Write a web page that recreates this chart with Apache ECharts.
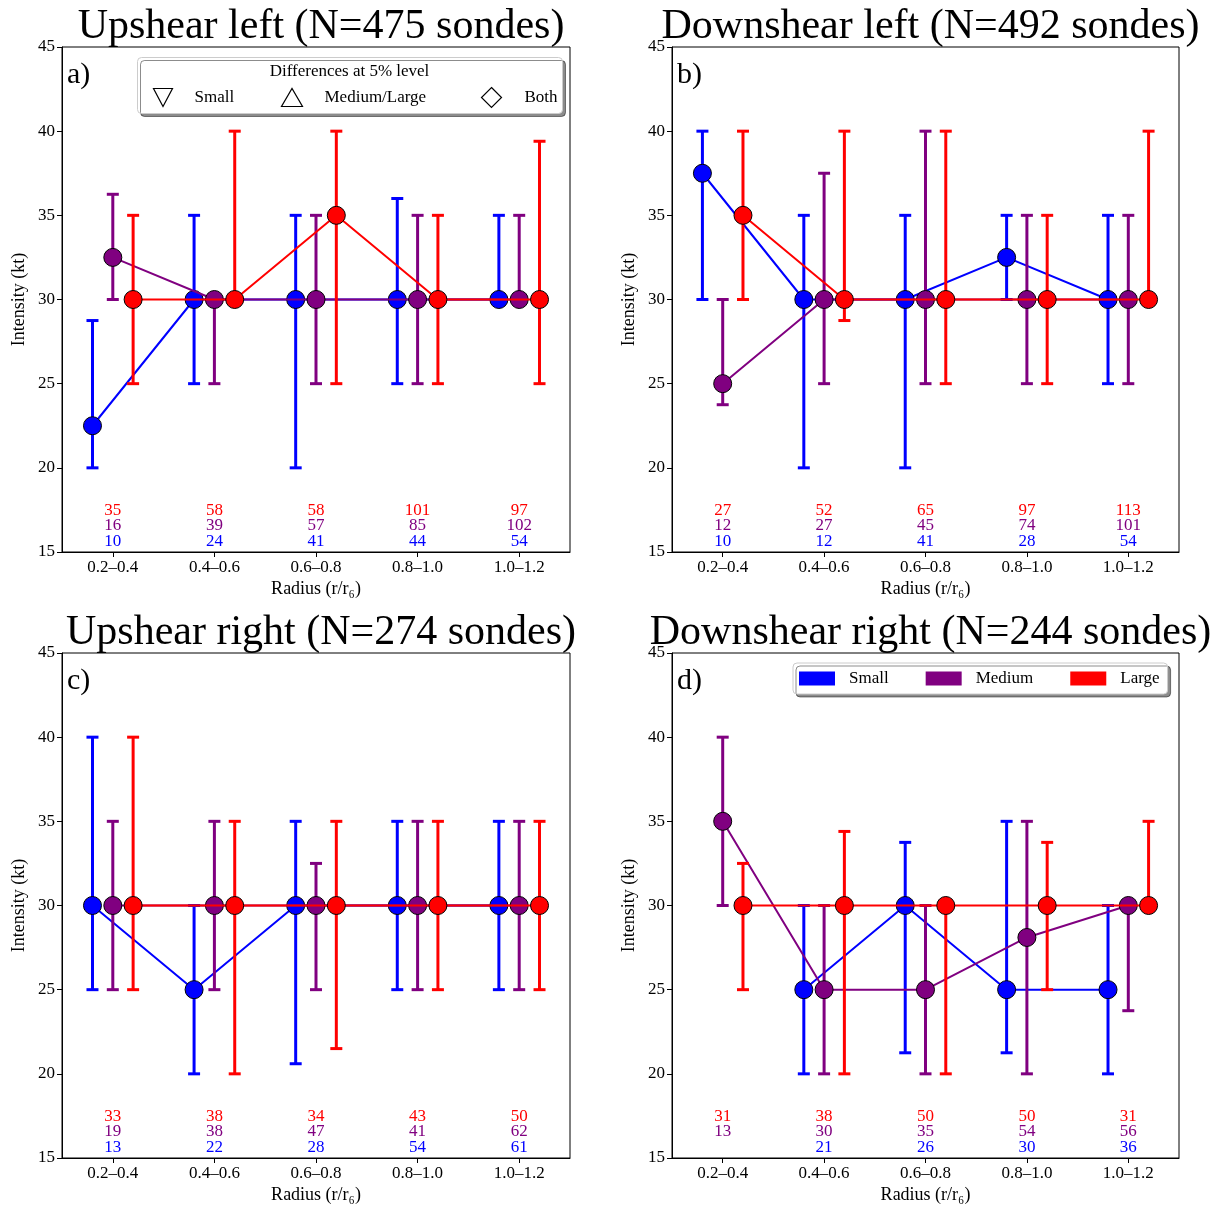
<!DOCTYPE html>
<html>
<head>
<meta charset="utf-8">
<script src="https://cdn.jsdelivr.net/npm/echarts@6/dist/echarts.min.js"></script>
<style>
html, body { margin: 0; padding: 0; background: #fff; }
#chart { width: 1221px; height: 1210px; }
</style>
</head>
<body>
<div id="chart"></div>
<script>
var categories = ['0.2–0.4', '0.4–0.6', '0.6–0.8', '0.8–1.0', '1.0–1.2'];
var titles = ['Upshear left (N=475 sondes)', 'Downshear left (N=492 sondes)',
              'Upshear right (N=274 sondes)', 'Downshear right (N=244 sondes)'];
var letters = ['a)', 'b)', 'c)', 'd)'];

// a) upshear left
var ulSmall = [22.5, 30, 30, 30, 30];
var ulSmallErr = [[20, 28.75], [25, 35], [20, 35], [25, 36], [30, 35]];
var ulSmallN = [10, 24, 41, 44, 54];
var ulMedium = [32.5, 30, 30, 30, 30];
var ulMediumErr = [[30, 36.25], [25, 30], [25, 35], [25, 35], [30, 35]];
var ulMediumN = [16, 39, 57, 85, 102];
var ulLarge = [30, 30, 35, 30, 30];
var ulLargeErr = [[25, 35], [30, 40], [25, 40], [25, 35], [25, 39.4]];
var ulLargeN = [35, 58, 58, 101, 97];

// b) downshear left
var dlSmall = [37.5, 30, 30, 32.5, 30];
var dlSmallErr = [[30, 40], [20, 35], [20, 35], [30, 35], [25, 35]];
var dlSmallN = [10, 12, 41, 28, 54];
var dlMedium = [25, 30, 30, 30, 30];
var dlMediumErr = [[23.75, 30], [25, 37.5], [25, 40], [25, 35], [25, 35]];
var dlMediumN = [12, 27, 45, 74, 101];
var dlLarge = [35, 30, 30, 30, 30];
var dlLargeErr = [[30, 40], [28.75, 40], [25, 40], [25, 35], [30, 40]];
var dlLargeN = [27, 52, 65, 97, 113];

// c) upshear right
var urSmall = [30, 25, 30, 30, 30];
var urSmallErr = [[25, 40], [20, 30], [20.6, 35], [25, 35], [25, 35]];
var urSmallN = [13, 22, 28, 54, 61];
var urMedium = [30, 30, 30, 30, 30];
var urMediumErr = [[25, 35], [25, 35], [25, 32.5], [25, 35], [25, 35]];
var urMediumN = [19, 38, 47, 41, 62];
var urLarge = [30, 30, 30, 30, 30];
var urLargeErr = [[25, 40], [20, 35], [21.5, 35], [25, 35], [25, 35]];
var urLargeN = [33, 38, 34, 43, 50];

// d) downshear right
var drSmall = [null, 25, 30, 25, 25];
var drSmallErr = [null, [20, 30], [21.25, 33.75], [21.25, 35], [20, 30]];
var drSmallN = [null, 21, 26, 30, 36];
var drMedium = [35, 25, 25, 28.1, 30];
var drMediumErr = [[30, 40], [20, 30], [20, 30], [20, 35], [23.75, 30]];
var drMediumN = [13, 30, 35, 54, 56];
var drLarge = [30, 30, 30, 30, 30];
var drLargeErr = [[25, 32.5], [20, 34.4], [20, 30], [25, 33.75], [30, 35]];
var drLargeN = [31, 38, 50, 50, 31];

var panels = [
    {small: [ulSmall, ulSmallErr, ulSmallN], medium: [ulMedium, ulMediumErr, ulMediumN], large: [ulLarge, ulLargeErr, ulLargeN]},
    {small: [dlSmall, dlSmallErr, dlSmallN], medium: [dlMedium, dlMediumErr, dlMediumN], large: [dlLarge, dlLargeErr, dlLargeN]},
    {small: [urSmall, urSmallErr, urSmallN], medium: [urMedium, urMediumErr, urMediumN], large: [urLarge, urLargeErr, urLargeN]},
    {small: [drSmall, drSmallErr, drSmallN], medium: [drMedium, drMediumErr, drMediumN], large: [drLarge, drLargeErr, drLargeN]}
];

var FONT = "'Liberation Serif', 'Times New Roman', serif";
var grids = [
    {left: 62, top: 47, width: 508, height: 505},
    {left: 672, top: 47, width: 507, height: 505},
    {left: 62, top: 653, width: 508, height: 505},
    {left: 672, top: 653, width: 507, height: 505}
];
var sizes = [
    {key: 'small', name: 'Small', color: '#0000ff', off: -0.2, row: 15.65},
    {key: 'medium', name: 'Medium', color: '#800080', off: 0, row: 16.55},
    {key: 'large', name: 'Large', color: '#ff0000', off: 0.2, row: 17.45}
];

function errRenderer(color) {
    return function(params, api) {
        var x = api.value(0);
        var lo = api.coord([x, api.value(1)]);
        var hi = api.coord([x, api.value(2)]);
        var c = 6;
        var st = {stroke: color, lineWidth: 3, fill: null};
        return {type: 'group', children: [
            {type: 'line', shape: {x1: lo[0], y1: lo[1], x2: hi[0], y2: hi[1]}, style: st},
            {type: 'line', shape: {x1: lo[0] - c, y1: lo[1], x2: lo[0] + c, y2: lo[1]}, style: st},
            {type: 'line', shape: {x1: hi[0] - c, y1: hi[1], x2: hi[0] + c, y2: hi[1]}, style: st}
        ]};
    };
}

function textRenderer(color) {
    return function(params, api) {
        var p = api.coord([api.value(0), api.value(1)]);
        return {type: 'text', x: p[0], y: p[1], style: {
            text: String(api.value(2)), fill: color, fontSize: 17, fontFamily: FONT,
            align: 'center', verticalAlign: 'middle'
        }};
    };
}

var xAxes = [], yAxes = [], series = [], titleList = [], graphics = [];
var tickVals = [0, 1, 2, 3, 4];

grids.forEach(function(g, gi) {
    xAxes.push({
        gridIndex: gi, type: 'value', min: -0.5, max: 4.5,
        axisLine: {show: true, onZero: false, lineStyle: {color: '#000', width: 1}},
        axisTick: {show: true, customValues: tickVals, length: 5, lineStyle: {color: '#000'}},
        axisLabel: {customValues: tickVals, formatter: function(v) { return categories[Math.round(v)]; },
                    fontSize: 17, color: '#000', fontFamily: FONT, margin: 7},
        splitLine: {show: false},
        name: 'Radius (r/r₆)', nameLocation: 'middle', nameGap: 28,
        nameTextStyle: {fontSize: 18, color: '#000', fontFamily: FONT}
    });
    yAxes.push({
        gridIndex: gi, type: 'value', min: 15, max: 45, interval: 5,
        axisLine: {show: true, onZero: false, lineStyle: {color: '#000', width: 1}},
        axisTick: {show: true, length: 5, lineStyle: {color: '#000'}},
        axisLabel: {fontSize: 17, color: '#000', fontFamily: FONT, margin: 7},
        splitLine: {show: false},
        name: 'Intensity (kt)', nameLocation: 'middle', nameGap: 34,
        nameTextStyle: {fontSize: 18, color: '#000', fontFamily: FONT}
    });
    titleList.push({
        text: titles[gi], left: g.left + g.width / 2, textAlign: 'center', top: g.top - 46,
        textStyle: {fontSize: 42, fontWeight: 'normal', color: '#000', fontFamily: FONT}
    });
    graphics.push({
        type: 'text', left: g.left + 5, top: g.top + 13,
        style: {text: letters[gi], fontSize: 30, fontFamily: FONT, fill: '#000'}
    });

    var panel = panels[gi];
    sizes.forEach(function(s, k) {
        var mean = panel[s.key][0], err = panel[s.key][1], n = panel[s.key][2];
        var pts = [], bars = [], counts = [];
        for (var i = 0; i < categories.length; i++) {
            if (mean[i] != null) {
                pts.push([i + s.off, mean[i]]);
                bars.push([i + s.off, err[i][0], err[i][1]]);
            }
            if (n[i] != null) counts.push([i, s.row, n[i]]);
        }
        series.push({
            type: 'custom', xAxisIndex: gi, yAxisIndex: gi, silent: true, z: 2 + k * 2,
            renderItem: errRenderer(s.color), data: bars, encode: {x: 0, y: [1, 2]}
        });
        series.push({
            type: 'line', name: s.name, xAxisIndex: gi, yAxisIndex: gi, data: pts, silent: true,
            z: 3 + k * 2, symbol: 'circle', symbolSize: 18,
            lineStyle: {color: s.color, width: 2},
            itemStyle: {color: s.color, borderColor: '#000', borderWidth: 1}
        });
        series.push({
            type: 'custom', xAxisIndex: gi, yAxisIndex: gi, silent: true, z: 10,
            renderItem: textRenderer(s.color), data: counts, encode: {x: 0, y: 1}
        });
    });
});

// legend box of panel a (significance markers)
graphics.push({
    type: 'group', left: 137, top: 57, children: [
        {type: 'rect', shape: {x: 0, y: 0, width: 425, height: 56, r: 4},
         style: {fill: '#fff', stroke: '#cccccc', lineWidth: 1,
                 shadowColor: 'rgba(0,0,0,0.45)', shadowOffsetX: 3, shadowOffsetY: 3, shadowBlur: 0}},
        {type: 'text', x: 212, y: 14, style: {text: 'Differences at 5% level', fontSize: 17, fontFamily: FONT,
                 fill: '#000', align: 'center', verticalAlign: 'middle'}},
        {type: 'polygon', shape: {points: [[16, 31], [35, 31], [25.5, 49]]},
         style: {fill: null, stroke: '#000', lineWidth: 1.2}},
        {type: 'text', x: 57, y: 40, style: {text: 'Small', fontSize: 17, fontFamily: FONT, fill: '#000', verticalAlign: 'middle'}},
        {type: 'polygon', shape: {points: [[144, 49], [165, 49], [154.5, 31]]},
         style: {fill: null, stroke: '#000', lineWidth: 1.2}},
        {type: 'text', x: 187, y: 40, style: {text: 'Medium/Large', fontSize: 17, fontFamily: FONT, fill: '#000', verticalAlign: 'middle'}},
        {type: 'polygon', shape: {points: [[354, 30], [364, 40], [354, 50], [344, 40]]},
         style: {fill: null, stroke: '#000', lineWidth: 1.2}},
        {type: 'text', x: 387, y: 40, style: {text: 'Both', fontSize: 17, fontFamily: FONT, fill: '#000', verticalAlign: 'middle'}}
    ]
});

var chart = echarts.init(document.getElementById('chart'));
chart.setOption({
    animation: false,
    backgroundColor: '#fff',
    title: titleList,
    grid: grids.map(function(g) {
        return {left: g.left, top: g.top, width: g.width, height: g.height, show: true,
                borderColor: '#000', borderWidth: 1, backgroundColor: 'transparent', containLabel: false};
    }),
    xAxis: xAxes,
    yAxis: yAxes,
    legend: {
        data: ['Small', 'Medium', 'Large'], left: 793, top: 663, orient: 'horizontal',
        icon: 'rect', itemWidth: 36, itemHeight: 14, itemGap: 37, selectedMode: false,
        padding: [7, 8, 7, 6], backgroundColor: '#fff', borderColor: '#cccccc', borderWidth: 1,
        borderRadius: 4, shadowColor: 'rgba(0,0,0,0.45)', shadowOffsetX: 3, shadowOffsetY: 3, shadowBlur: 0,
        itemStyle: {borderWidth: 0},
        textStyle: {fontSize: 17, fontFamily: FONT, color: '#000', padding: [0, 0, 0, 9]}
    },
    graphic: graphics,
    series: series
});
window.addEventListener('resize', function() { chart.resize(); });
</script>
</body>
</html>
